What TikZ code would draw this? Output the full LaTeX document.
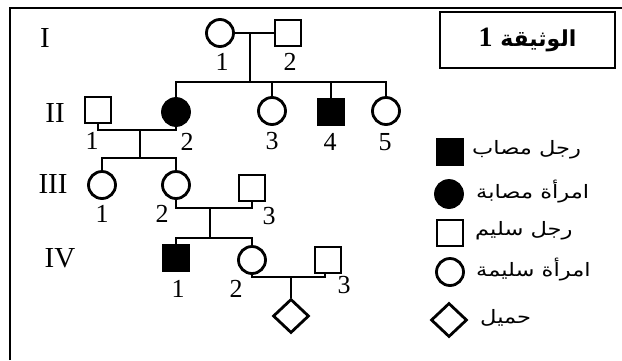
\documentclass[tikz,border=0pt]{standalone}
\usepackage{fontspec}
\setmainfont{Liberation Serif}
\newfontfamily\arabicfont[Script=Arabic]{DejaVu Sans}
\newfontfamily\arabicwide[Script=Arabic,FakeStretch=1.22]{DejaVu Sans}
\TeXXeTstate=1
\usetikzlibrary{shapes.geometric}
\begin{document}
\begin{tikzpicture}[x=1pt,y=-1pt,
  ln/.style={line width=2.8pt},
  male/.style={draw,line width=2.8pt,rectangle,minimum size=26pt,inner sep=0pt,fill=white},
  female/.style={draw,line width=2.8pt,circle,minimum size=27pt,inner sep=0pt,fill=white},
  aff/.style={fill=black},
  unk/.style={draw,line width=2.8pt,diamond,minimum width=36pt,minimum height=34pt,inner sep=0pt,fill=white},
  num/.style={font=\fontsize{26}{26}\selectfont,inner sep=0pt},
  gen/.style={font=\fontsize{29}{29}\selectfont,inner sep=0pt},
  leg/.style={font=\arabicwide\fontsize{18.5}{18.5}\selectfont,anchor=west,inner sep=0pt}]
\useasboundingbox (0,0) rectangle (622,360);
\fill[white] (0,0) rectangle (622,360);
% frame
\draw[ln] (10,360) -- (10,8) -- (622,8);
\node[draw,line width=2.8pt,minimum width=175pt,minimum height=56pt,inner sep=0pt] (title) at (527.5,40) {};
\node[font=\arabicfont\bfseries\fontsize{22}{22}\selectfont] (ttext) at (title.center) {\beginR الوثيقة {\rmfamily\bfseries\fontsize{28}{28}\selectfont 1}\endR};
% generation labels
\node[gen] (gI) at (45,38) {I};
\node[gen] (gII) at (55,113) {II};
\node[gen] (gIII) at (53,184) {III};
\node[gen] (gIV) at (60,258) {IV};
% individuals
\node[female] (I1) at (220,33) {};
\node[male] (I2) at (288,33) {};
\node[male] (II1) at (98,110) {};
\node[female,aff] (II2) at (176,112) {};
\node[female] (II3) at (272,111) {};
\node[male,aff] (II4) at (331,112) {};
\node[female] (II5) at (386,111) {};
\node[female] (III1) at (102,185) {};
\node[female] (III2) at (176,185) {};
\node[male] (III3) at (252,188) {};
\node[male,aff] (IV1) at (176,258) {};
\node[female] (IV2) at (252,260) {};
\node[male] (IV3) at (328,260) {};
\node[unk] (V1) at (291,316) {};
% numbers
\node[num] (nI1) at (222,62) {1};
\node[num] (nI2) at (290,62) {2};
\node[num] (nII1) at (92,141) {1};
\node[num] (nII2) at (187,142) {2};
\node[num] (nII3) at (272,141) {3};
\node[num] (nII4) at (330,142) {4};
\node[num] (nII5) at (385,142) {5};
\node[num] (nIII1) at (102,214) {1};
\node[num] (nIII2) at (162,214) {2};
\node[num] (nIII3) at (269,216) {3};
\node[num] (nIV1) at (178,289) {1};
\node[num] (nIV2) at (236,289) {2};
\node[num] (nIV3) at (344,285) {3};
% connectors
\coordinate (m1) at (250,33);
\coordinate (s2) at (250,82);
\coordinate (m2) at (140,130);
\coordinate (s3) at (140,158);
\coordinate (m3) at (210,208);
\coordinate (s4) at (210,238);
\coordinate (m4) at (291,277);
\draw[ln] (I1.east) -- (I2.west);
\draw[ln] (m1) -- (s2);
\draw[ln] (II2.north) |- (s2) -| (II5.north);
\draw[ln] (II3.north) -- (II3.north |- s2);
\draw[ln] (II4.north) -- (II4.north |- s2);
\draw[ln] (II1.south) |- (m2) -| (II2.south);
\draw[ln] (m2) -- (s3);
\draw[ln] (III1.north) |- (s3) -| (III2.north);
\draw[ln] (III2.south) |- (m3) -| (III3.south);
\draw[ln] (m3) -- (s4);
\draw[ln] (IV1.north) |- (s4) -| (IV2.north);
\draw[ln] (IV2.south) |- (m4) -| ([xshift=-3pt]IV3.south);
\draw[ln] (m4) -- (V1.north);
% legend
\node[male,aff] (L1) at (450,152) {};
\node[female,aff] (L2) at (449,194) {};
\node[male] (L3) at (450,233) {};
\node[female] (L4) at (450,272) {};
\node[unk] (L5) at (449,320) {};
\node[leg] (t1) at (472,150) {\beginR رجل مصاب\endR};
\node[leg] (t2) at (476,192) {\beginR امرأة مصابة\endR};
\node[leg] (t3) at (475,231) {\beginR رجل سليم\endR};
\node[leg] (t4) at (476,270) {\beginR امرأة سليمة\endR};
\node[leg] (t5) at (480,318) {\beginR حميل\endR};
\end{tikzpicture}
\end{document}
